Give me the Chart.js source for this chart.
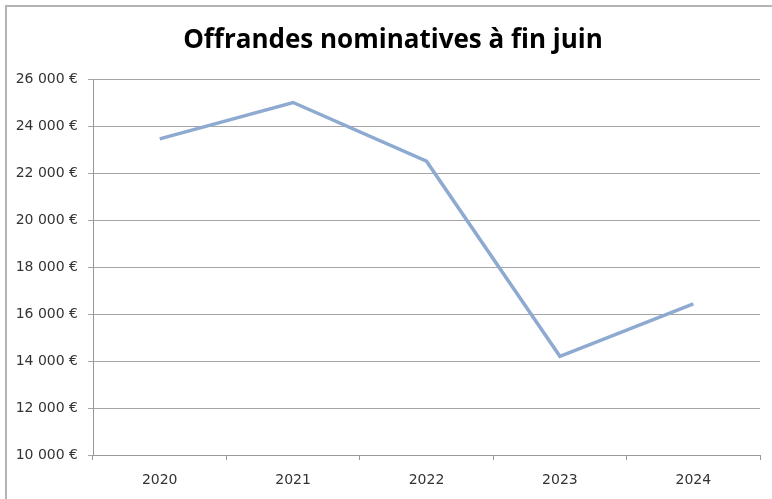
<!DOCTYPE html>
<html>
<head>
<meta charset="utf-8">
<script src="https://cdn.jsdelivr.net/npm/chart.js@4/dist/chart.umd.min.js"></script>
<style>
  html, body { margin: 0; padding: 0; background: #fff; }
  #wrap { width: 772px; height: 499px; position: relative; }
</style>
</head>
<body>
<div id="wrap"><canvas id="chart" width="772" height="499"></canvas></div>
<script>
// chart data
const years = ['2020', '2021', '2022', '2023', '2024'];
const offrandes = [23450, 25000, 22500, 14200, 16430];
const yTicks = [10000, 12000, 14000, 16000, 18000, 20000, 22000, 24000, 26000];
const chartTitle = 'Offrandes nominatives à f\u200Cin juin';

function euro(v) {
    return Math.floor(v / 1000) + ' 000 €';
}

// frame + title drawn by hand so the position is predictable
const framePlugin = {
    id: 'frame',
    beforeDraw(chart) {
        const ctx = chart.ctx;
        ctx.save();
        ctx.fillStyle = '#fff';
        ctx.fillRect(0, 0, chart.width, chart.height);
        ctx.strokeStyle = '#b4b4b4';
        ctx.lineWidth = 2;
        ctx.beginPath();
        ctx.moveTo(6, chart.height);
        ctx.lineTo(6, 6);
        ctx.lineTo(chart.width, 6);
        ctx.stroke();
        // fit title to roughly the width it has in the original
        ctx.font = 'bold 24px "Open Sans"';
        let w = ctx.measureText(chartTitle).width;
        let size = Math.min(28, 24 * 420 / w);
        ctx.font = 'bold ' + size.toFixed(1) + 'px "Open Sans"';
        ctx.fillStyle = '#000';
        ctx.textAlign = 'center';
        ctx.textBaseline = 'middle';
        ctx.fillText(chartTitle, 393, 41);
        ctx.restore();
    }
};

new Chart(document.getElementById('chart'), {
    type: 'line',
    data: {
        labels: years,
        datasets: [{
            data: offrandes,
            borderColor: '#8eaad0',
            borderWidth: 3.5,
            pointRadius: 0,
            tension: 0
        }]
    },
    options: {
        responsive: false,
        animation: false,
        layout: { padding: { top: 79, right: 12, left: 0, bottom: 0 } },
        plugins: {
            legend: { display: false },
            tooltip: { enabled: false }
        },
        scales: {
            x: {
                offset: true,
                afterFit(scale) { scale.height = 44; },
                grid: {
                    offset: true,
                    drawOnChartArea: false,
                    drawTicks: true,
                    tickLength: 5,
                    color: '#999'
                },
                border: { color: '#999', width: 1 },
                ticks: {
                    color: '#333',
                    padding: 12,
                    font: { family: 'DejaVu Sans', size: 14 }
                }
            },
            y: {
                min: 10000,
                max: 26000,
                afterFit(scale) { scale.width = 93; },
                afterBuildTicks(scale) {
                    scale.ticks = yTicks.map(v => ({ value: v }));
                },
                grid: {
                    color: '#a5a5a5',
                    tickLength: 5,
                    drawTicks: true
                },
                border: { color: '#999', width: 1 },
                ticks: {
                    color: '#333',
                    padding: 10,
                    font: { family: 'DejaVu Sans', size: 14 },
                    callback: v => euro(v)
                }
            }
        }
    },
    plugins: [framePlugin]
});
</script>
</body>
</html>
